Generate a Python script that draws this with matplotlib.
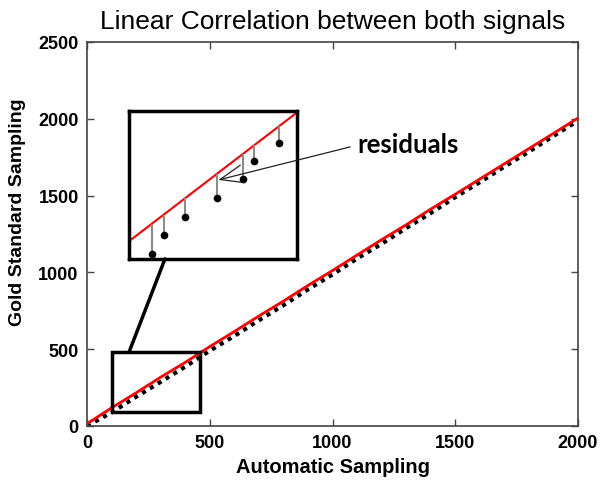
import numpy as np
import matplotlib.pyplot as plt
from matplotlib.patches import Rectangle, ConnectionPatch

# main series
auto_x = [0, 100, 200, 300, 400, 500, 600, 700, 800, 900, 1000,
          1100, 1200, 1300, 1400, 1500, 1600, 1700, 1800, 1900, 2000]
fit_y = [15, 118, 216, 318, 414, 517, 615, 716, 813, 915, 1012,
         1113, 1213, 1310, 1412, 1509, 1608, 1707, 1806, 1905, 2005]
gold_y = [0, 88, 190, 287, 386, 490, 586, 688, 786, 889, 986,
          1090, 1186, 1288, 1386, 1490, 1587, 1688, 1786, 1888, 1988]

# zoom inset (schematic, unit box)
ins_line_x = [0.0, 1.0]
ins_line_y = [0.12, 0.99]
ins_pt_x = [0.135, 0.207, 0.335, 0.524, 0.680, 0.744, 0.895]
ins_pt_y = [0.034, 0.162, 0.284, 0.410, 0.539, 0.660, 0.786]

zoom_box = (100, 90, 360, 390)  # x0, y0, width, height

xticks = [0, 500, 1000, 1500, 2000]
yticks = [0, 500, 1000, 1500, 2000, 2500]

plt.rcParams['font.family'] = 'Liberation Sans'

fig = plt.figure(figsize=(6.01, 4.85), dpi=100)
ax = fig.add_axes([0.1448, 0.1196, 0.8170, 0.7918])

ax.plot(auto_x, fit_y, color='red', lw=2, zorder=3)
ax.plot(auto_x, gold_y, color='black', lw=3, linestyle=(0, (1, 1.2)), zorder=2)

ax.add_patch(Rectangle(zoom_box[:2], zoom_box[2], zoom_box[3], fill=False,
                       ec='black', lw=2.5, zorder=4))

ax.set_xlim(0, 2000)
ax.set_ylim(0, 2500)
ax.set_xticks(xticks)
ax.set_yticks(yticks)
ax.tick_params(direction='in', top=True, right=True, length=5, width=1,
               color='#444444', labelsize=13, pad=6)
for lab in ax.get_xticklabels() + ax.get_yticklabels():
    lab.set_fontweight('bold')
for sp in ax.spines.values():
    sp.set_color('#444444')
    sp.set_linewidth(1.2)

ax.set_title('Linear Correlation between both signals', fontsize=19, pad=10)
ax.set_xlabel('Automatic Sampling', fontsize=14.5, fontweight='bold', labelpad=4)
ax.set_ylabel('Gold Standard Sampling', fontsize=14, fontweight='bold')
ax.yaxis.set_label_coords(-0.125, 0.56)

# inset
ins = fig.add_axes([0.2146, 0.4639, 0.2795, 0.3052])
ins.plot(ins_line_x, ins_line_y, color='red', lw=1.5)
line_at = [ins_line_y[0] + (ins_line_y[1] - ins_line_y[0]) * x for x in ins_pt_x]
ins.vlines(ins_pt_x, ins_pt_y, line_at, color='#8c8c8c', lw=1.5)
ins.plot(ins_pt_x, ins_pt_y, 'o', color='black', ms=4.5)
ins.set_xlim(0, 1)
ins.set_ylim(0, 1)
ins.set_xticks([])
ins.set_yticks([])
for sp in ins.spines.values():
    sp.set_linewidth(2.5)
    sp.set_color('black')

ins.annotate('residuals', xy=(0.532, 0.534), xycoords='data',
             xytext=(357, 340), textcoords='figure pixels',
             ha='left', va='center', fontsize=18.5, fontweight='bold',
             family='Lato', annotation_clip=False,
             arrowprops=dict(arrowstyle='->,head_length=0.9,head_width=0.35',
                             color='#222222', lw=0.9, relpos=(0, 0.45),
                             shrinkA=3, shrinkB=0))

con = ConnectionPatch(xyA=(0.214, 0), coordsA=ins.transAxes,
                      xyB=(171, 480), coordsB=ax.transData,
                      color='black', lw=2.5)
fig.add_artist(con)

fig.savefig('out.png', dpi=100)
